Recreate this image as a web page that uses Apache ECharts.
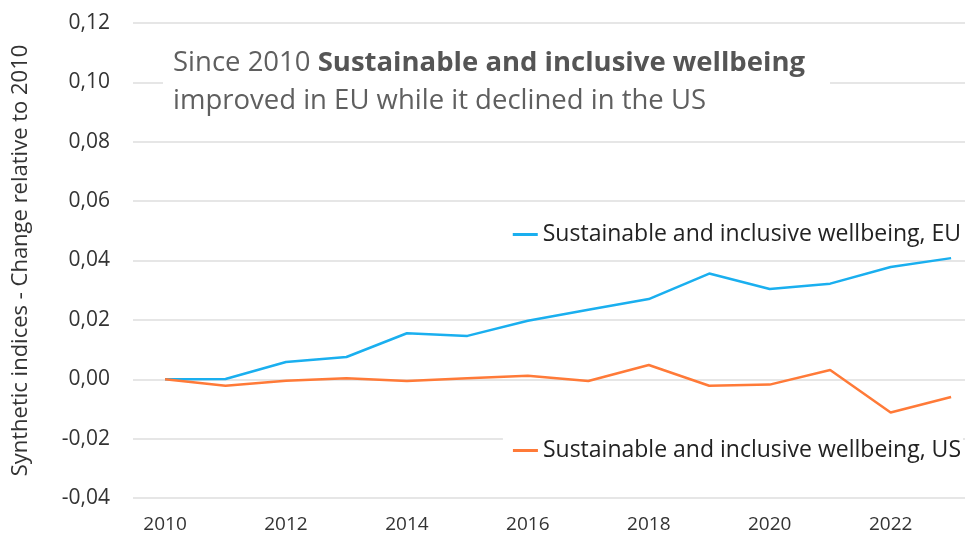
<!DOCTYPE html>
<html>
<head>
<meta charset="utf-8">
<script src="https://cdn.jsdelivr.net/npm/echarts@6/dist/echarts.min.js"></script>
<style>html,body{margin:0;padding:0;background:#fff}#c{width:965px;height:538px}</style>
</head>
<body>
<div id="c"></div>
<script>
const years = [2010,2011,2012,2013,2014,2015,2016,2017,2018,2019,2020,2021,2022,2023];
const euValues = [0, 0.0001, 0.0058, 0.0075, 0.0155, 0.0146, 0.0197, 0.0234, 0.027, 0.0356, 0.0304, 0.0322, 0.0378, 0.0408];
const usValues = [0, -0.0022, -0.0005, 0.0003, -0.0006, 0.0003, 0.0012, -0.0006, 0.0048, -0.0022, -0.0018, 0.0031, -0.0112, -0.006];
const xTickLabels = [2010,2012,2014,2016,2018,2020,2022];
const euName = 'Sustainable and inclusive wellbeing, EU';
const usName = 'Sustainable and inclusive wellbeing, US';
const yAxisName = 'Synthetic indices - Change relative to 2010';

const FONT = 'Open Sans';
const chart = echarts.init(document.getElementById('c'), null, {renderer: 'canvas'});
chart.setOption({
  animation: false,
  textStyle: {fontFamily: FONT},
  title: {
    left: 163, top: 38,
    padding: [6, 25, 8, 10],
    backgroundColor: '#fff',
    text: '{a|Since 2010 }{b|Sustainable and inclusive wellbeing}\n{a|improved in EU while it declined in the US}',
    textStyle: {
      rich: {
        a: {fontSize: 27.5, fontFamily: FONT, fontWeight: 'normal', color: '#5f5f5f', lineHeight: 38},
        b: {fontSize: 27.5, fontFamily: FONT, fontWeight: 'bold', color: '#555', lineHeight: 38}
      }
    }
  },
  legend: [
    {data: [euName], right: 2, top: 218, backgroundColor: '#fff', padding: [5, 2, 5, 10],
     itemWidth: 25, itemHeight: 3, itemGap: 10,
     icon: 'rect', textStyle: {fontSize: 23, color: '#222', fontFamily: FONT}},
    {data: [usName], right: 2, top: 434, backgroundColor: '#fff', padding: [5, 2, 5, 10],
     itemWidth: 25, itemHeight: 3, itemGap: 10,
     icon: 'rect', textStyle: {fontSize: 23, color: '#222', fontFamily: FONT}}
  ],
  grid: {left: 133, right: 0, top: 23, bottom: 40, containLabel: false, outerBoundsMode: 'none'},
  xAxis: {
    type: 'value', min: 2009.47, max: 2023.23,
    axisLine: {show: false}, axisTick: {show: false}, splitLine: {show: false},
    axisLabel: {customValues: xTickLabels, fontSize: 19, color: '#333', margin: 17, fontFamily: FONT,
      formatter: v => String(v)}
  },
  yAxis: {
    type: 'value', min: -0.04, max: 0.12, interval: 0.02,
    name: yAxisName, nameLocation: 'middle', nameRotate: 90, nameGap: 101,
    nameTextStyle: {fontSize: 22, color: '#333', fontFamily: FONT},
    axisLine: {show: false}, axisTick: {show: false},
    splitLine: {lineStyle: {color: '#e6e6e6', width: 2}},
    axisLabel: {fontSize: 21, color: '#333', margin: 23, fontFamily: FONT,
      formatter: v => v.toFixed(2).replace('.', ',')}
  },
  series: [
    {name: euName, type: 'line', data: years.map((y, i) => [y, euValues[i]]),
     showSymbol: false, lineStyle: {color: '#1AAFEF', width: 2.5}, itemStyle: {color: '#1AAFEF'}},
    {name: usName, type: 'line', data: years.map((y, i) => [y, usValues[i]]),
     showSymbol: false, lineStyle: {color: '#FF7A38', width: 2.5}, itemStyle: {color: '#FF7A38'}}
  ]
});
</script>
</body>
</html>
